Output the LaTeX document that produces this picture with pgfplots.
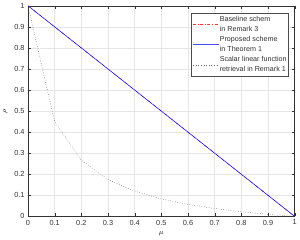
\documentclass[border=0pt]{standalone}
\usepackage{pgfplots}
\pgfplotsset{compat=1.18}
\usepackage{fontspec}
\setmainfont{Liberation Sans}
\begin{document}
\begin{tikzpicture}[x=1bp,y=1bp]
\begin{axis}[
  at={(0,0)}, anchor=south west,
  scale only axis,
  width=271bp, height=214bp,
  xmin=0, xmax=1, ymin=0, ymax=1,
  xtick={0,0.1,...,1}, ytick={0,0.1,...,1},
  xticklabels={0,0.1,0.2,0.3,0.4,0.5,0.6,0.7,0.8,0.9,1},
  yticklabels={0,0.1,0.2,0.3,0.4,0.5,0.6,0.7,0.8,0.9,1},
  tick align=inside, tick pos=both,
  major tick length=3bp,
  grid=major, grid style={gray!20, line width=0.4pt},
  axis line style={black!80, line width=0.5pt},
  tick style={black!80},
  ticklabel style={font=\fontsize{7.5}{8}\selectfont, text=black!80},
  xlabel={$\mu$}, ylabel={$\rho$},
  label style={font=\fontsize{7.5}{8}\selectfont},
  legend style={at={(0.978,0.967)}, anchor=north east, font=\fontsize{7.3}{10.2}\selectfont,
    draw=black!70, line width=0.4pt, inner xsep=1pt, inner ysep=1.5pt, row sep=-0.5pt,
    nodes={align=left, text=black!80, inner xsep=1pt}},
  legend cell align=left,
]
\addlegendimage{legend image code/.code={\draw[red!80, dash dot, line width=0.7pt] (0bp,0bp) -- (26bp,0bp);}}
\addlegendentry{Baseline schem\\in Remark 3}
\addlegendimage{legend image code/.code={\draw[blue!70, line width=0.7pt] (0bp,0bp) -- (26bp,0bp);}}
\addlegendentry{Proposed scheme\\in Theorem 1}
\addlegendimage{legend image code/.code={\draw[black!60, dotted, line width=0.7pt] (0bp,0bp) -- (26bp,0bp);}}
\addlegendentry{Scalar linear function\\retrieval in Remark 1}
\addplot[red!80, dash dot, line width=0.5pt, forget plot] coordinates {(0,1) (1,0)};
\addplot[blue, line width=0.5pt, forget plot] coordinates {(0,1) (1,0)};
\addplot[black!70, dotted, line width=0.5pt, forget plot] coordinates {
(0,1) (0.1,0.45) (0.2,0.2667) (0.3,0.175) (0.4,0.12) (0.5,0.0833)
(0.6,0.0571) (0.7,0.0375) (0.8,0.0222) (0.9,0.01) (1,0)};
\end{axis}
\end{tikzpicture}
\end{document}
